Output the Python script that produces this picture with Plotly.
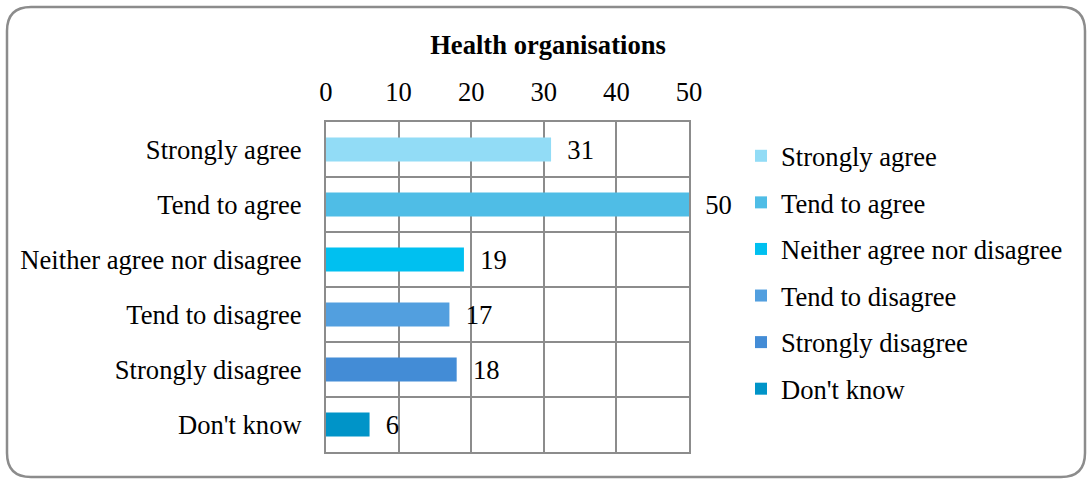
import plotly.graph_objects as go

categories = ["Strongly agree", "Tend to agree", "Neither agree nor disagree",
              "Tend to disagree", "Strongly disagree", "Don't know"]
values = [31, 50, 19, 17, 18, 6]
colors = ["#92DCF6", "#4FBDE6", "#00C0F0", "#529FDF", "#438CD6", "#0094C8"]
x_ticks = [0, 10, 20, 30, 40, 50]
title = "Health organisations"

W, H = 1092, 480
L, R, T, B = 326, 689, 122, 452
FONT = "Times New Roman, Liberation Serif, serif"
FS = 26.6

fig = go.Figure()
for i, (c, v, col) in enumerate(zip(categories, values, colors)):
    fig.add_trace(go.Bar(
        y=[i], x=[v], orientation="h", name=c, marker=dict(color=col, line=dict(width=0)),
        width=0.44, text=["  " + str(v)], textposition="outside", cliponaxis=False,
        constraintext="none",
        textfont=dict(family=FONT, size=FS, color="black"),
        legendgroup=c, showlegend=True,
    ))

def px(x):
    return (x - L) / (R - L)

def py(y):
    return (B - y) / (B - T)

# rounded outer border
x0, x1, y0, y1, r = 7, 1085, 7, 477, 24
path = (f"M {px(x0+r)},{py(y0)} L {px(x1-r)},{py(y0)} Q {px(x1)},{py(y0)} {px(x1)},{py(y0+r)} "
        f"L {px(x1)},{py(y1-r)} Q {px(x1)},{py(y1)} {px(x1-r)},{py(y1)} "
        f"L {px(x0+r)},{py(y1)} Q {px(x0)},{py(y1)} {px(x0)},{py(y1-r)} "
        f"L {px(x0)},{py(y0+r)} Q {px(x0)},{py(y0)} {px(x0+r)},{py(y0)} Z")
fig.add_shape(type="path", path=path, xref="paper", yref="paper",
              line=dict(color="#8C8C8C", width=2.5), layer="below")

fig.update_layout(
    width=W, height=H,
    margin=dict(l=L, r=W - R, t=T, b=H - B, pad=0, autoexpand=False),
    paper_bgcolor="white", plot_bgcolor="white",
    barmode="overlay",
    title=dict(text=f"<b>{title}</b>", x=548 / W, xanchor="center", y=1 - 45 / H, yanchor="middle",
               font=dict(family=FONT, size=FS, color="black")),
    font=dict(family=FONT, size=FS, color="black"),
    legend=dict(x=px(741), y=py(132), xanchor="left", yanchor="top",
                traceorder="grouped", tracegroupgap=9,
                font=dict(family=FONT, size=FS, color="black"),
                itemwidth=30, bgcolor="rgba(0,0,0,0)"),
    showlegend=True,
)
fig.update_xaxes(range=[0, 50], side="top", tickvals=x_ticks, ticks="",
                 showgrid=True, gridcolor="#8C8C8C", gridwidth=2,
                 showline=True, linecolor="#8C8C8C", linewidth=2, mirror=True,
                 zeroline=False, ticklabelstandoff=8,
                 tickfont=dict(family=FONT, size=FS, color="black"))
fig.update_yaxes(range=[5.5, -0.5], tickvals=list(range(len(categories))), ticktext=categories,
                 ticks="", showgrid=False, zeroline=False,
                 showline=True, linecolor="#8C8C8C", linewidth=2, mirror=True,
                 minor=dict(tickvals=[k + 0.5 for k in range(len(categories) - 1)],
                            showgrid=True, gridcolor="#8C8C8C", gridwidth=2, ticks=""),
                 ticklabelstandoff=17,
                 tickfont=dict(family=FONT, size=FS, color="black"))

fig.write_html("out.html", config={"displayModeBar": False},
               post_script="document.body.style.margin='0';")
